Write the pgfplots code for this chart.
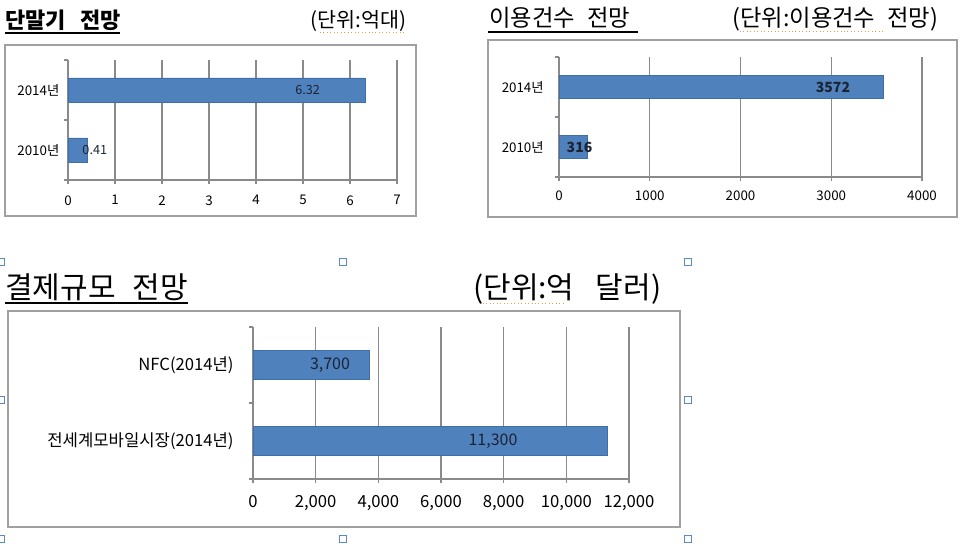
\documentclass[border=0pt]{standalone}
\usepackage{fontspec}
\setmainfont{Noto Sans CJK KR}
\usepackage{pgfplots}
\pgfplotsset{compat=1.18}
\definecolor{barblue}{HTML}{4F81BD}
\definecolor{baredge}{HTML}{3F6FAA}
\definecolor{gridgray}{HTML}{8A8A8A}
\definecolor{boxgray}{HTML}{A0A0A0}
\definecolor{handleblue}{HTML}{5A8AC6}
\definecolor{spell}{HTML}{E8A040}
\definecolor{lbl}{HTML}{1C2434}
\pgfplotsset{
  mybar/.style={
    scale only axis,
    xbar,
    axis x line*=bottom, axis y line*=left,
    axis line style={draw=gridgray, line width=0.8pt, -},
    xmajorgrids, grid style={draw=gridgray, line width=0.8pt},
    ymin=-0.5, ymax=1.5,
    tick align=outside,
    major tick length=3pt,
    tick style={draw=gridgray, line width=0.8pt},
    ytick={-0.5,0.5,1.5}, yticklabels={},
    extra y ticks={0,1},
    extra y tick style={tick style={draw=none}},
    scaled x ticks=false,
    /pgf/number format/assume math mode=true,
    clip=false,
  }
}
\begin{document}
\begin{tikzpicture}
\fill[white] (0,0) rectangle (725.25pt,-414pt);
\path[use as bounding box] (0,0) rectangle (725.25pt,-414pt);
\begin{scope}[x=0.75pt,y=-0.75pt]
  % boxes
  \draw[boxgray, line width=1.1pt] (5,45) rectangle (416,216);
  \draw[boxgray, line width=1.1pt] (488,40) rectangle (957,217);
  \draw[boxgray, line width=1.1pt] (8,311) rectangle (680,527);
  % titles
  \node[anchor=base west, inner sep=0pt, font=\fontsize{16.5}{18}\selectfont\bfseries] at (5,29) {단말기\hspace{11pt}전망};
  \draw[black, line width=0.9pt] (5,33) -- (120,33);
  \node[anchor=base west, inner sep=0pt, font=\fontsize{15.5}{18}\selectfont] at (310,28) {(단위:억대)};
  \draw[spell, line width=0.6pt, dotted] (320,32) -- (405,32);
  \node[anchor=base west, inner sep=0pt, font=\fontsize{17.5}{20}\selectfont] at (489,27) {이용건수\hspace{9pt}전망};
  \draw[black, line width=0.9pt] (488,32) -- (638,32);
  \node[anchor=base west, inner sep=0pt, font=\fontsize{17.5}{20}\selectfont] at (732,27) {(단위:이용건수\hspace{9pt}전망)};
  \draw[spell, line width=0.6pt, dotted] (740,31) -- (885,31);
  \node[anchor=base west, inner sep=0pt, font=\fontsize{22.5}{26}\selectfont] at (5,298) {결제규모\hspace{13pt}전망};
  \draw[black, line width=1pt] (5,303) -- (188,303);
  \node[anchor=base west, inner sep=0pt, font=\fontsize{22.5}{26}\selectfont] at (473,298) {(단위:억\hspace{16pt}달러)};
  \draw[spell, line width=0.6pt, dotted] (483,303) -- (565,303);
  % selection handles
  \foreach \hx/\hy in {343/262, 688/262, 688/400, 343/539, 688/539, 1/262, 1/400, 1/539}
    \draw[handleblue, fill=white, line width=0.6pt] (\hx-3.5,\hy-3.5) rectangle (\hx+3.5,\hy+3.5);
\end{scope}

% chart 1
\begin{axis}[mybar, at={(51pt,-135pt)}, anchor=south west,
  width=246.75pt, height=90pt,
  xmin=0, xmax=7, xtick={0,1,...,7},
  bar width=18pt,
  extra y tick labels={2010년,2014년},
  tick label style={font=\fontsize{10}{12}\selectfont},
  xticklabel style={yshift=-5pt},
]
\addplot[fill=barblue, draw=baredge, line width=0.4pt] coordinates {(0.41,0) (6.32,1)};
\node[font=\fontsize{9.5}{11}\selectfont, text=lbl] at (axis cs:5.1,1) {6.32};
\node[font=\fontsize{9.5}{11}\selectfont, text=lbl] at (axis cs:0.57,0) {0.41};
\end{axis}

% chart 2
\begin{axis}[mybar, at={(419.25pt,-132.75pt)}, anchor=south west,
  width=272.25pt, height=90pt,
  xmin=0, xmax=4000, xtick={0,1000,...,4000},
  /pgf/number format/1000 sep={},
  bar width=17.25pt,
  extra y tick labels={2010년,2014년},
  tick label style={font=\fontsize{10}{12}\selectfont},
  xticklabel style={yshift=-4pt},
  yticklabel style={xshift=-5pt},
]
\addplot[fill=barblue, draw=baredge, line width=0.4pt] coordinates {(316,0) (3572,1)};
\node[font=\fontsize{10.5}{12}\selectfont\bfseries, text=lbl] at (axis cs:3019,1) {3572};
\node[font=\fontsize{10.5}{12}\selectfont\bfseries, text=lbl] at (axis cs:226,0) {316};
\end{axis}

% chart 3
\begin{axis}[mybar, at={(189.75pt,-359.25pt)}, anchor=south west,
  width=282pt, height=114pt,
  xmin=0, xmax=12000, xtick={0,2000,...,12000},
  /pgf/number format/1000 sep={,},
  bar width=21.75pt,
  extra y tick labels={전세계모바일시장(2014년),NFC(2014년)},
  tick label style={font=\fontsize{12.5}{15}\selectfont},
  xticklabel style={yshift=-6pt},
  yticklabel style={xshift=-8pt},
]
\addplot[fill=barblue, draw=baredge, line width=0.4pt] coordinates {(11300,0) (3700,1)};
\node[font=\fontsize{12}{14}\selectfont, text=lbl] at (axis cs:2457,1) {3,700};
\node[font=\fontsize{12}{14}\selectfont, text=lbl] at (axis cs:7660,0) {11,300};
\end{axis}
\end{tikzpicture}
\end{document}
